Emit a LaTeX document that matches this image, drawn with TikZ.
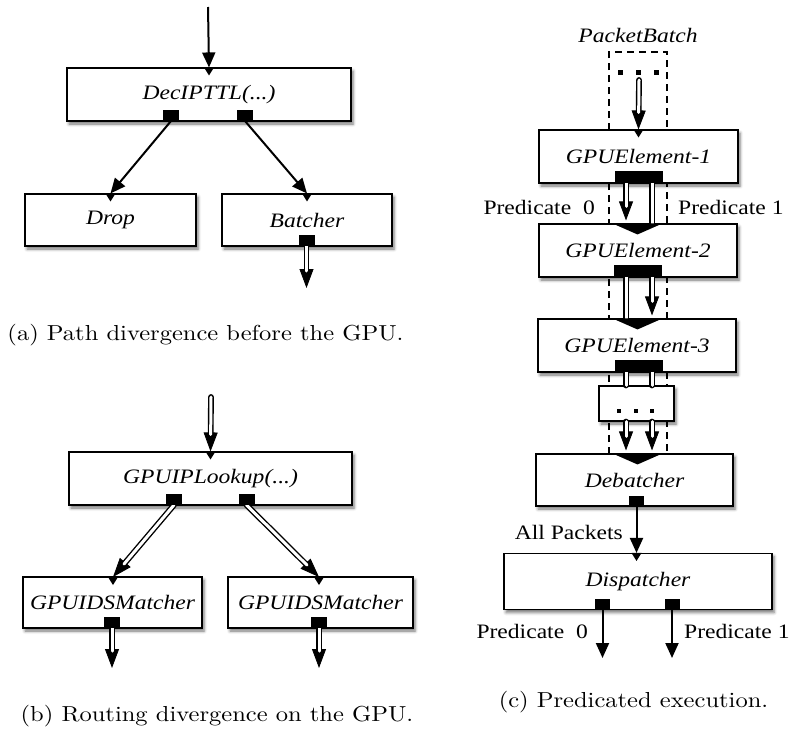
\documentclass[tikz,border=0pt]{standalone}
\usepackage{fontspec}
\usetikzlibrary{arrows.meta,shadows.blur,calc}
\newfontfamily\tms[FakeStretch=1.15]{Liberation Serif}
\newfontfamily\capfont[FakeStretch=1.13]{lmroman10-regular.otf}

\tikzset{
  box/.style={draw, line width=1.1pt, fill=white, inner sep=0pt,
    font={\fontsize{20.5}{24}\selectfont\tms\itshape},
    blur shadow={shadow xshift=2pt, shadow yshift=-3pt, shadow blur radius=3pt, shadow opacity=55}},
  oport/.style={fill=black, inner sep=0pt, minimum width=16pt, minimum height=11pt, anchor=south},
  obar/.style={oport, minimum width=48pt, minimum height=12pt},
  sarrow/.style={line width=2pt, -{Triangle[length=15pt,width=13pt]}},
  dshaft/.style={draw, arrows=-, line width=1.4pt, double=white, double distance=3pt, line cap=round},
  dhead/.style={line width=0.8pt, -{Triangle[length=19pt,width=14pt]},
    postaction={dshaft, shorten >=17pt}},
  dashline/.style={line width=1.6pt, dash pattern=on 7pt off 5pt},
  lbl/.style={font={\fontsize{20.5}{24}\selectfont\tms}, inner sep=0pt},
  captiontext/.style={font={\fontsize{21.7}{26}\selectfont\capfont}, inner sep=0pt},
  inport/.pic={\fill (-5,0) -- (5,0) -- (0,8) -- cycle;},
  bigin/.pic={\fill (-25,0) -- (25,0) -- (0,11) -- cycle;},
}

\begin{document}
\begin{tikzpicture}[x=1pt, y=-1pt]
\useasboundingbox (0,0) rectangle (792,731);

% ---------- (a) path divergence ----------
\coordinate (aIn) at (208,7);
\node[box, minimum width=284pt, minimum height=53pt] (dec) at (209,94.5) {DecIPTTL(...)};
\node[box, minimum width=171pt, minimum height=52pt] (drop) at (110.5,220) {Drop};
\node[box, minimum width=170pt, minimum height=52pt] (bat) at (307,220) {Batcher};
\coordinate (aOut) at (306.5,288);

\draw[sarrow] (aIn) -- (dec.north);
\node[oport] (decL) at (171,121) {};
\node[oport] (decR) at (245,121) {};
\node[oport] (batP) at (306.5,246) {};
\draw[sarrow] (decL.south) -- (drop.north);
\draw[sarrow] (decR.south) -- (bat.north);
\draw[dhead] (batP.south) -- (aOut);
\node[oport] at (batP.south) {};
\pic at (dec.north) {inport};
\pic at (drop.north) {inport};
\pic at (bat.north) {inport};
\node[captiontext] (capA) at (205.5,335) {(a) Path divergence before the GPU.};

% ---------- (b) routing divergence ----------
\coordinate (bIn) at (211,397);
\node[box, minimum width=283pt, minimum height=53pt] (lookup) at (210.5,478.5) {GPUIPLookup(...)};
\node[box, minimum width=179pt, minimum height=51pt] (idsL) at (112.5,602.5) {GPUIDSMatcher};
\node[box, minimum width=185pt, minimum height=51pt] (idsR) at (320.5,602.5) {GPUIDSMatcher};
\coordinate (bOutL) at (112,668);
\coordinate (bOutR) at (319,668);

\draw[dhead] (bIn) -- (lookup.north);
\coordinate (idsLin) at (113,577);
\coordinate (idsRin) at (319,577);
\coordinate (lkL) at (174,505);
\coordinate (lkR) at (246.5,505);
\coordinate (idsLo) at (112,628);
\coordinate (idsRo) at (319,628);
\draw[dhead] (lkL) -- (idsLin);
\draw[dhead] (lkR) -- (idsRin);
\draw[dhead] (idsLo) -- (bOutL);
\draw[dhead] (idsRo) -- (bOutR);
\node[oport] (lkLp) at (lkL) {};
\node[oport] (lkRp) at (lkR) {};
\node[oport] (idsLp) at (idsLo) {};
\node[oport] (idsRp) at (idsRo) {};
\pic at (lookup.north) {inport};
\pic at (idsLin) {inport};
\pic at (idsRin) {inport};
\node[captiontext] (capB) at (217,716) {(b) Routing divergence on the GPU.};

% ---------- (c) predicated execution ----------
\coordinate (lx) at (626,0);
\coordinate (rx) at (652,0);
\coordinate (mx) at (637.5,0);

\node[font={\fontsize{20.5}{24}\selectfont\tms\itshape}, inner sep=0pt] (pb) at (638,35) {PacketBatch};
% dashed outline of the packet batch
\coordinate (dTL) at (609,52);
\coordinate (dTR) at (667,52);
\coordinate (dBL) at (609,454);
\coordinate (dBR) at (667,454);
\draw[dashline] (dBL) -- (dTL) -- (dTR) -- (dBR);
\fill (617.5,69.5) rectangle ++(5,5);
\fill (635.5,69.5) rectangle ++(5,5);
\fill (653.5,69.5) rectangle ++(5,5);
\coordinate (pbStart) at (639,80);

\node[box, minimum width=199pt, minimum height=53pt] (gpu1) at (638.5,156.5) {GPUElement-1};
\node[box, minimum width=198pt, minimum height=53pt] (gpu2) at (638,250.5) {GPUElement-2};
\node[box, minimum width=198pt, minimum height=53pt] (gpu3) at (637,345.5) {GPUElement-3};
\node[box, minimum width=75pt, minimum height=35pt] (more) at (636.5,403.5) {};
\fill (617,409) rectangle ++(4,4);
\fill (634,409) rectangle ++(4,4);
\fill (650,409) rectangle ++(4,4);
\node[box, minimum width=197pt, minimum height=52pt] (deb) at (634.5,480) {Debatcher};
\node[box, minimum width=268pt, minimum height=56pt] (disp) at (638,581.5) {Dispatcher};

\node[obar] (bar1) at (639,183) {};
\node[obar] (bar2) at (637.5,277) {};
\node[obar] (bar3) at (638.5,372) {};

\draw[dhead] (pbStart) -- (gpu1.north);
% element 1 -> element 2
\draw[dhead, shorten >=3pt] (bar1.south -| lx) -- (gpu2.north -| lx);
\draw[dshaft] (bar1.south -| rx) -- (gpu2.north -| rx);
% element 2 -> element 3
\draw[dshaft] (bar2.south -| lx) -- (gpu3.north -| lx);
\draw[dhead, shorten >=3pt] (bar2.south -| rx) -- (gpu3.north -| rx);
% element 3 -> more
\draw[dshaft] (bar3.south -| lx) -- (more.north -| lx);
\draw[dshaft] (bar3.south -| rx) -- (more.north -| rx);
% more -> debatcher
\draw[dhead, shorten >=3pt] (more.south -| lx) -- (deb.north -| lx);
\draw[dhead, shorten >=3pt] (more.south -| rx) -- (deb.north -| rx);

\node[obar] at (bar1.south) {};
\node[obar] at (bar2.south) {};
\node[obar] at (bar3.south) {};
\pic at (gpu1.north) {inport};
\pic at (gpu2.north -| mx) {bigin};
\pic at (gpu3.north -| mx) {bigin};
\pic at (deb.north -| mx) {bigin};

\node[lbl, anchor=east] (p0a) at (595,207) {Predicate\ \ 0};
\node[lbl, anchor=west] (p1a) at (678,207) {Predicate 1};

\node[oport, minimum width=15pt, minimum height=10pt] (debP) at (636.5,506) {};
\draw[sarrow] (debP.south) -- (debP.south |- disp.north);
\node[oport, minimum width=15pt, minimum height=10pt] at (debP.south) {};
\pic at (debP.south |- disp.north) {inport};
\node[lbl, anchor=east] (allp) at (623,532) {All Packets};

\node[oport, minimum width=15pt, minimum height=10pt] (dp0) at (602.5,609.5) {};
\node[oport, minimum width=15pt, minimum height=10pt] (dp1) at (672,609.5) {};
\coordinate (out0) at (602.5,658);
\coordinate (out1) at (672,658);
\draw[sarrow] (dp0.south) -- (out0);
\draw[sarrow] (dp1.south) -- (out1);
\node[lbl, anchor=east] (p0b) at (588,631) {Predicate\ \ 0};
\node[lbl, anchor=west] (p1b) at (684,631) {Predicate 1};

\node[captiontext] (capC) at (633.5,702) {(c) Predicated execution.};
\end{tikzpicture}
\end{document}
